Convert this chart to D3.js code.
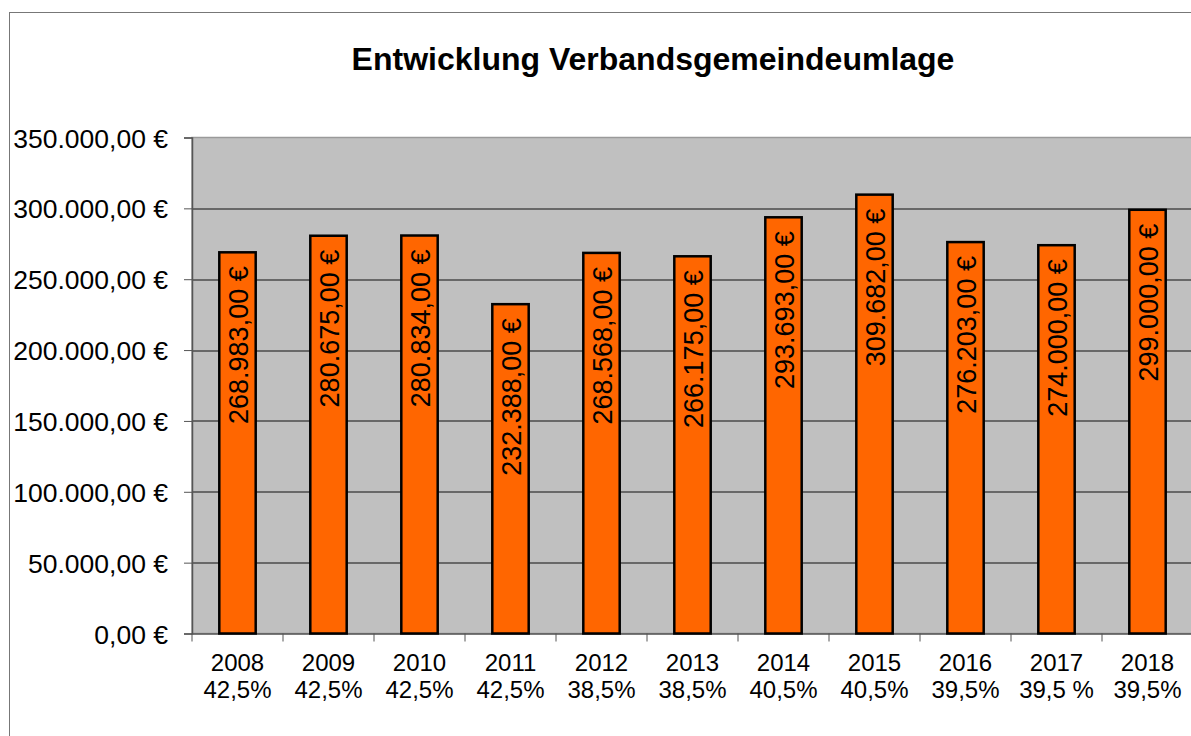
<!DOCTYPE html>
<html>
<head>
<meta charset="utf-8">
<script src="https://cdn.jsdelivr.net/npm/d3@7"></script>
<style>
  body { margin: 0; background: #fff; }
  svg { display: block; font-family: "Liberation Sans", Arial, sans-serif; }
</style>
</head>
<body>
<div id="chart-area"></div>
<script>
// Jahre, Umlagesaetze und Betraege
var years = ["2008", "2009", "2010", "2011", "2012", "2013", "2014", "2015", "2016", "2017", "2018"];
var rates = ["42,5%", "42,5%", "42,5%", "42,5%", "38,5%", "38,5%", "40,5%", "40,5%", "39,5%", "39,5 %", "39,5%"];
var amounts = [268983, 280675, 280834, 232388, 268568, 266175, 293693, 309682, 276203, 274000, 299000];
var yTicks = [0, 50000, 100000, 150000, 200000, 250000, 300000, 350000];

var W = 1191, H = 736;
var margin = { top: 137.5, left: 192, right: -2, bottom: 102.5 },
    width = W - margin.left - margin.right,
    height = H - margin.top - margin.bottom;

var euro = function(v) {
    var s = d3.format(",.2f")(v);
    // deutsches Zahlenformat
    s = s.replace(/,/g, "#").replace(".", ",").replace(/#/g, ".");
    return s + " €";
};

var x = d3.scaleBand().domain(years).range([0, width]).paddingInner(0.6).paddingOuter(0.3);
var xc = d3.scaleBand().domain(years).range([0, width]);
var y = d3.scaleLinear().domain([0, 350000]).range([height, 0]);

var svg = d3.select("#chart-area").append("svg")
    .attr("width", W)
    .attr("height", H);

// Diagrammrahmen
svg.append("rect")
    .attr("x", 9.5).attr("y", 12.5)
    .attr("width", W + 20).attr("height", H + 20)
    .attr("fill", "none").attr("stroke", "#777").attr("stroke-width", 1);

svg.append("text")
    .attr("x", 653)
    .attr("y", 70)
    .attr("text-anchor", "middle")
    .style("font-weight", "bold")
    .style("font-size", "32px")
    .text("Entwicklung Verbandsgemeindeumlage");

var g = svg.append("g")
    .attr("transform", "translate(" + margin.left + "," + margin.top + ")");

g.append("rect")
    .attr("width", width).attr("height", height)
    .attr("fill", "#c0c0c0")
    .attr("stroke", "#9a9a9a").attr("stroke-width", 1.5);

// Gitternetz
g.selectAll("line.grid").data(yTicks.slice(1, -1)).enter().append("line")
    .attr("class", "grid")
    .attr("x1", 0).attr("x2", width)
    .attr("y1", d => Math.round(y(d)) + 0.5).attr("y2", d => Math.round(y(d)) + 0.5)
    .attr("stroke", "#111").attr("stroke-width", 1.2);

var yAxis = d3.axisLeft(y).tickValues(yTicks).tickSize(8).tickPadding(16).tickFormat(euro);
var yG = g.append("g").attr("class", "y axis").call(yAxis);
yG.select(".domain").attr("stroke", "#555").attr("stroke-width", 1.5);
yG.selectAll(".tick line").attr("stroke", "#555");
yG.selectAll("text").style("font-size", "26.5px").attr("fill", "#000").attr("dy", "0.36em");

var xAxis = d3.axisBottom(xc).tickSize(8).tickSizeOuter(0).tickFormat("");
var xG = g.append("g").attr("class", "x axis")
    .attr("transform", "translate(0," + height + ")")
    .call(xAxis);
xG.select(".domain").attr("stroke", "#555").attr("stroke-width", 1.5);
xG.selectAll(".tick line")
    .attr("transform", "translate(" + (-xc.bandwidth() / 2) + ",0)")
    .attr("stroke", "#555");

var lab = g.append("g").attr("class", "x-labels");
years.forEach(function(yr, i) {
    var t = lab.append("text")
        .attr("text-anchor", "middle")
        .attr("transform", "translate(" + (xc(yr) + xc.bandwidth() / 2) + "," + (height + 37.5) + ")")
        .style("font-size", "24px");
    t.append("tspan").attr("x", 0).attr("y", 0).text(yr);
    t.append("tspan").attr("x", 0).attr("y", 27).text(rates[i]);
});

// Balken
g.selectAll("rect.bar").data(amounts).enter().append("rect")
    .attr("class", "bar")
    .attr("x", (d, i) => x(years[i]))
    .attr("y", d => y(d))
    .attr("width", x.bandwidth())
    .attr("height", d => height - y(d))
    .attr("fill", "#ff6600")
    .attr("stroke", "#000")
    .attr("stroke-width", 2.5);

g.selectAll("text.val").data(amounts).enter().append("text")
    .attr("class", "val")
    .attr("transform", (d, i) => "translate(" + (x(years[i]) + x.bandwidth() / 2) + "," + y(d) + ") rotate(-90)")
    .attr("x", -14)
    .attr("dy", "0.4em")
    .attr("text-anchor", "end")
    .style("font-size", "27px")
    .text(d => euro(d));
</script>
</body>
</html>
